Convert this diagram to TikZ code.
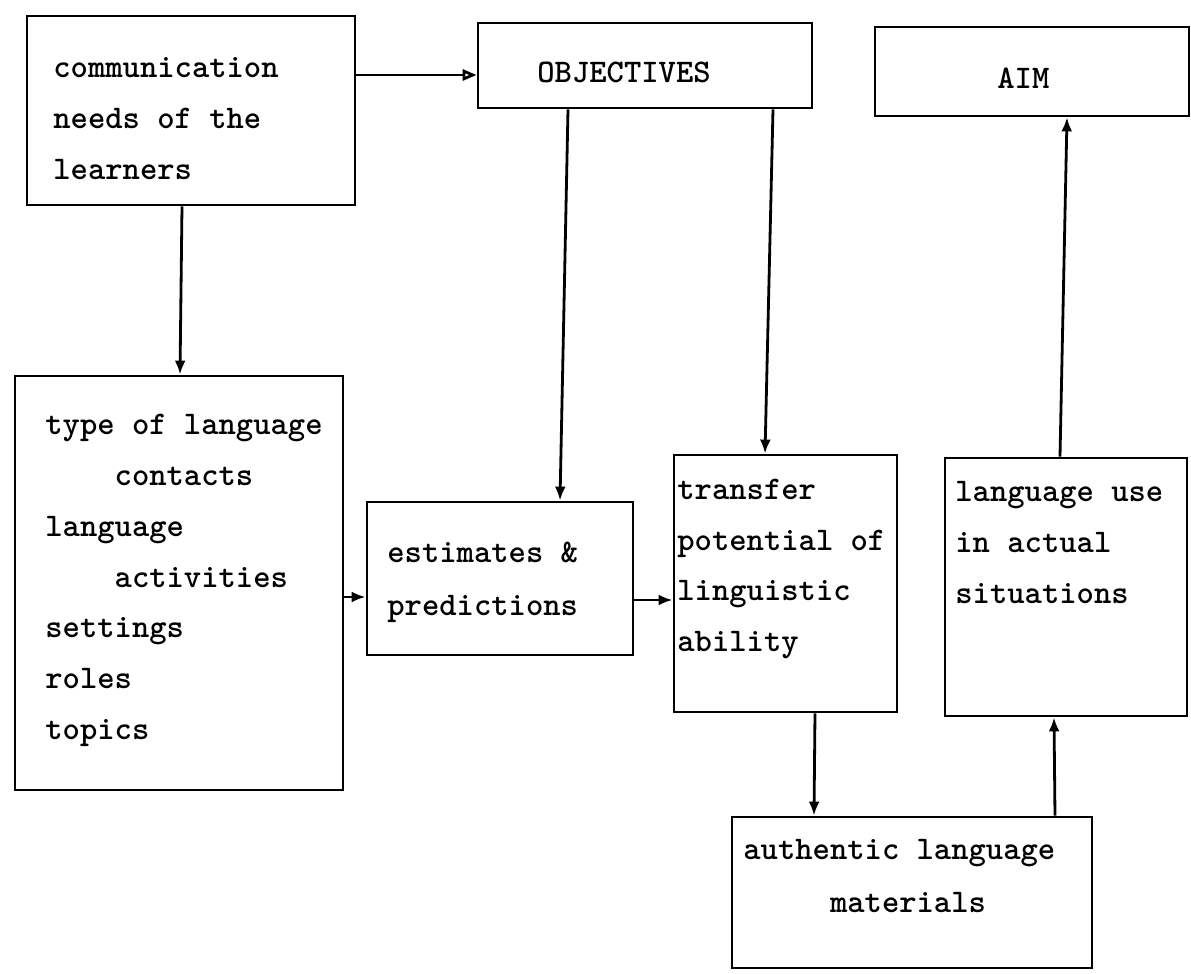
\documentclass[tikz,border=0pt]{standalone}
\usetikzlibrary{arrows.meta,fit}
\begin{document}
\begin{tikzpicture}[x=0.5pt,y=-0.5pt,
  box/.style={draw, line width=1.4pt, inner sep=0pt},
  txt/.style={anchor=base west, inner sep=0pt, font=\ttfamily\bfseries\fontsize{16.5}{20}\selectfont},
  arr/.style={line width=1.4pt, -{Latex[length=7pt,width=5.5pt]}},
  oarr/.style={line width=1.4pt, -{Triangle[open,length=7pt,width=5.5pt]}}]
\useasboundingbox (0,0) rectangle (1191,974);
% boxes
\node[box, fit={(27,16)(355,205)}] (comm) {};
\node[box, fit={(478,23)(812,108)}] (obj) {};
\node[box, fit={(875,27)(1189,116)}] (aim) {};
\node[box, fit={(15,376)(343,790)}] (type) {};
\node[box, fit={(367,502)(633,655)}] (est) {};
\node[box, fit={(674,455)(897,712)}] (tr) {};
\node[box, fit={(945,458)(1187,716)}] (lu) {};
\node[box, fit={(732,817)(1092,968)}] (auth) {};
% texts
\node[txt] (commtxt) at (53,78) {\vtop{\baselineskip=25.5pt\hbox{communication}\hbox{needs of the}\hbox{learners}}};
\node[txt] (objtxt) at (537,83) {OBJECTIVES};
\node[txt] (aimtxt) at (997,89) {AIM};
\node[txt] (typetxt) at (45,435) {\vtop{\baselineskip=25.35pt\hbox{type of language}\hbox{\hphantom{aaaa}contacts}\hbox{language}\hbox{\hphantom{aaaa}activities}\hbox{settings}\hbox{roles}\hbox{topics}}};
\node[txt] (esttxt) at (387,562) {\vtop{\baselineskip=26.5pt\hbox{estimates \&}\hbox{predictions}}};
\node[txt] (trtxt) at (677,500) {\vtop{\baselineskip=25.2pt\hbox{transfer}\hbox{potential of}\hbox{linguistic}\hbox{ability}}};
\node[txt] (lutxt) at (955,502) {\vtop{\baselineskip=25.3pt\hbox{language use}\hbox{in actual}\hbox{situations}}};
\node[txt] (authtxt) at (743,859) {\vtop{\baselineskip=26.5pt\hbox{authentic language}\hbox{\hphantom{aaaaa}materials}}};
% helper levels
\coordinate (l1) at (0,75);
\coordinate (l5) at (0,597);
\coordinate (l6) at (0,600);
% connectors
\draw[oarr] (comm.east |- l1) -- (obj.west |- l1);
\draw[arr] (comm.south -| 182,0) -- (type.north -| 180,0);
\draw[arr] (obj.south -| 568,0) -- (est.north -| 560,0);
\draw[arr] (obj.south -| 773,0) -- (tr.north -| 765,0);
\draw[arr] (type.east |- l5) -- (est.west |- l5);
\draw[arr] (est.east |- l6) -- (tr.west |- l6);
\draw[arr] (tr.south -| 815,0) -- (auth.north -| 814,0);
\draw[arr] (auth.north -| 1055,0) -- (lu.south -| 1054,0);
\draw[arr] (lu.north -| 1060,0) -- (aim.south -| 1067,0);
\end{tikzpicture}
\end{document}
